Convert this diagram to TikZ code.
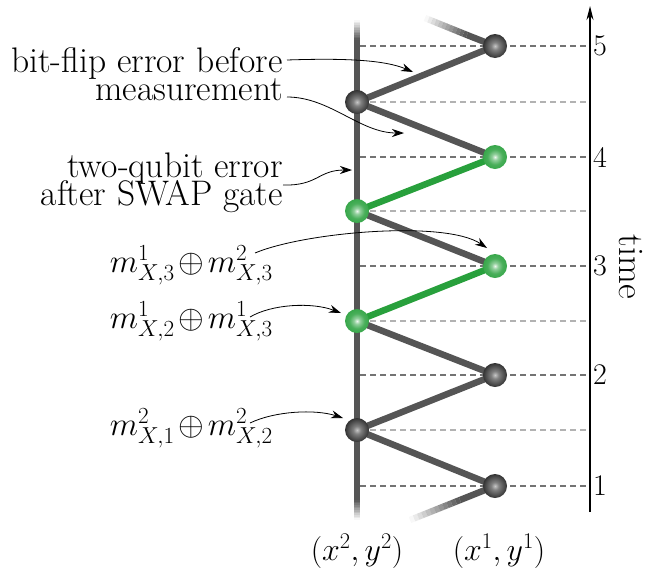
\RequirePackage{fix-cm}
\documentclass[tikz,border=0pt]{standalone}
\usetikzlibrary{arrows.meta,calc,backgrounds}
\definecolor{edgegray}{RGB}{85,85,85}
\definecolor{qgreen}{RGB}{40,160,60}
\definecolor{dashdark}{RGB}{115,115,115}
\definecolor{dashlight}{RGB}{178,178,178}
\pgfdeclareradialshading{darkball}{\pgfpoint{0bp}{0bp}}{color(0bp)=(black!22); color(8bp)=(black!50); color(25bp)=(black!80); color(45bp)=(black!95); color(50bp)=(black)}
\pgfdeclareradialshading{greenball}{\pgfpoint{0bp}{0bp}}{color(0bp)=(white!92!qgreen); color(6bp)=(qgreen!50!white); color(16bp)=(qgreen!85!white); color(35bp)=(qgreen); color(50bp)=(qgreen!75!black)}
\newcommand\fadeline[3]{\foreach \k in {0,...,11}{\pgfmathsetmacro\op{(\k+0.5)/12}\pgfmathsetmacro\ta{\k/12}\pgfmathsetmacro\tb{(\k+1)/12}\draw[#3,opacity=\op] ($(#1)!\ta!(#2)$) -- ($(#1)!\tb!(#2)$);}}
\newcommand\xorop{\mkern2mu{\oplus}\mkern2mu}
\begin{document}
\begin{tikzpicture}[x=1pt,y=1pt,
  lab/.style={font=\fontsize{35.5}{30}\selectfont, inner sep=0pt, anchor=base east},
  mlab/.style={font=\fontsize{33}{36}\selectfont, inner sep=0pt, anchor=base east},
  num/.style={font=\fontsize{30}{34}\selectfont, inner sep=0pt, anchor=west},
  edge/.style={line width=6.5pt, draw=edgegray},
  gedge/.style={line width=6.5pt, draw=qgreen},
  dball/.style={circle, minimum size=24pt, inner sep=0pt, shade, shading=darkball},
  gball/.style={circle, minimum size=24pt, inner sep=0pt, shade, shading=greenball},
  dashint/.style={draw=dashdark, line width=1.3pt, dash pattern=on 6pt off 4pt},
  dashhalf/.style={draw=dashlight, line width=1.3pt, dash pattern=on 6pt off 4pt},
  note/.style={draw=black, line width=0.8pt, -{Stealth[length=12pt,width=8pt]}}
]
\useasboundingbox (0,0) rectangle (650,-568);

% balls
\node[dball] (r1) at (495,-486) {};
\node[dball] (l15) at (357,-430) {};
\node[dball] (r2) at (495,-375) {};
\node[gball] (l25) at (357,-321) {};
\node[gball] (r3) at (495,-266) {};
\node[gball] (l35) at (357,-211) {};
\node[gball] (r4) at (495,-157) {};
\node[dball] (l45) at (357,-102) {};
\node[dball] (r5) at (495,-46) {};

\begin{scope}[on background layer]
  % dashed time rows
  \foreach \y/\n in {486/1,375/2,266/3,157/4,46/5} {
    \coordinate (dL\n) at (360,-\y);
    \coordinate (dR\n) at (588,-\y);
    \draw[dashint] (dL\n) -- (dR\n);
  }
  \foreach \y/\n in {430/a,321/b,211/c,102/d} {
    \coordinate (hL\n) at (360,-\y);
    \coordinate (hR\n) at (588,-\y);
    \draw[dashhalf] (hL\n) -- (hR\n);
  }
  % vertical worldline
  \coordinate (vtf) at (357,-20);
  \coordinate (vts) at (357,-40);
  \coordinate (vbs) at (357,-500);
  \coordinate (vbf) at (357,-520);
  \draw[edge] (vts) -- (vbs);
  \fadeline{vtf}{vts}{edge}
  \fadeline{vbf}{vbs}{edge}
  % faded zigzag ends
  \coordinate (ztf) at (425,-18);
  \coordinate (zts) at (467,-35);
  \coordinate (zbs) at (460,-500);
  \coordinate (zbf) at (410,-520);
  \draw[edge] (r5.center) -- (zts);
  \fadeline{ztf}{zts}{edge}
  \draw[edge] (r1.center) -- (zbs);
  \fadeline{zbf}{zbs}{edge}
  % zigzag
  \draw[edge, line join=round] (r1.center) -- (l15.center) -- (r2.center) -- (l25.center);
  \draw[gedge] (l25.center) -- (r3.center);
  \draw[edge] (r3.center) -- (l35.center);
  \draw[gedge] (l35.center) -- (r4.center);
  \draw[edge, line join=round] (r4.center) -- (l45.center) -- (r5.center);
\end{scope}

% time axis
\coordinate (tb) at (590,-512);
\coordinate (tt) at (590,-6);
\draw[line width=1.2pt, -{Stealth[length=14pt,width=7pt]}] (tb) -- (tt);
\foreach \y/\n in {486/1,375/2,266/3,157/4,46/5} {
  \node[num] (n\n) at (593,-\y) {\n};
}
\node[font=\fontsize{36}{40}\selectfont, rotate=-90, inner sep=0pt] (tl) at (631,-267) {time};

% labels
\node[lab] (bf1) at (283,-72) {bit-flip error before};
\node[lab] (bf2) at (283,-100) {measurement};
\node[lab] (tq1) at (283,-177) {two-qubit error};
\node[lab] (tq2) at (283,-205) {after SWAP gate};
\node[mlab] (m1) at (273,-272) {$m^1_{X,3}\xorop m^2_{X,3}$};
\node[mlab] (m2) at (273,-328) {$m^1_{X,2}\xorop m^1_{X,3}$};
\node[mlab] (m3) at (273,-435) {$m^2_{X,1}\xorop m^2_{X,2}$};
\node[font=\fontsize{32}{36}\selectfont, inner sep=0pt] (c2) at (357,-551) {$(x^2,y^2)$};
\node[font=\fontsize{32}{36}\selectfont, inner sep=0pt] (c1) at (499,-551) {$(x^1,y^1)$};

% annotation arrows
\coordinate (bft) at (413,-72);
\coordinate (bmt) at (404,-133);
\coordinate (tqt) at (352,-170);
\draw[note] ([shift={(4,12)}]bf1.base east) .. controls (345,-58) and (385,-60) .. (bft);
\draw[note] ([shift={(4,3)}]bf2.base east) .. controls (330,-97) and (360,-133) .. (bmt);
\draw[note] ([shift={(0,-8)}]tq1.base east) .. controls (318,-186) and (318,-170) .. (tqt);
\draw[note] ([shift={(-18,19)}]m1.base east) .. controls (305,-232) and (445,-220) .. ([shift={(-8,18)}]r3.center);
\draw[note] ([shift={(-23,11)}]m2.base east) .. controls (272,-304) and (312,-302) .. ([shift={(-16,8)}]l25.center);
\draw[note] ([shift={(-23,12)}]m3.base east) .. controls (275,-411) and (315,-409) .. ([shift={(-14,12)}]l15.center);
\end{tikzpicture}
\end{document}
